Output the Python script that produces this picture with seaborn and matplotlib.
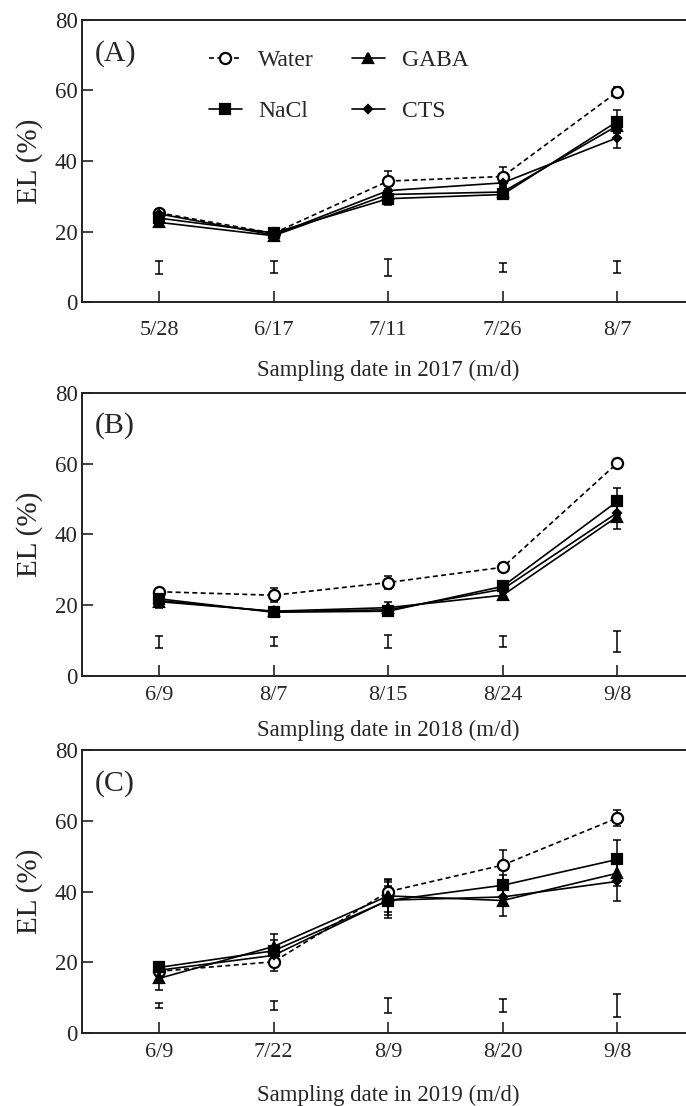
import matplotlib
matplotlib.use("Agg")
import numpy as np
import pandas as pd
import matplotlib.pyplot as plt
import seaborn as sns

# sampling dates per year
dates_2017 = ["5/28", "6/17", "7/11", "7/26", "8/7"]
dates_2018 = ["6/9", "8/7", "8/15", "8/24", "9/8"]
dates_2019 = ["6/9", "7/22", "8/9", "8/20", "9/8"]

# (A) 2017
water_a = [25.3, 19.5, 34.3, 35.6, 59.6]
water_a_err = [1.0, 0.8, 2.8, 2.8, 1.5]
nacl_a = [23.8, 19.6, 29.3, 30.5, 51.2]
nacl_a_err = [1.5, 1.2, 1.8, 1.0, 3.3]
gaba_a = [22.6, 18.8, 30.5, 31.2, 50.0]
gaba_a_err = [1.2, 1.0, 1.5, 1.0, 2.0]
cts_a = [25.0, 19.0, 31.6, 33.8, 46.6]
cts_a_err = [1.0, 0.8, 1.5, 1.2, 2.8]
lsd_a = [9.8, 9.8, 9.8, 9.7, 9.8]
lsd_a_half = [1.9, 1.7, 2.3, 1.3, 1.7]

# (B) 2018
water_b = [23.8, 22.8, 26.4, 30.7, 60.1]
water_b_err = [1.0, 2.0, 1.8, 0.8, 1.2]
nacl_b = [21.8, 18.0, 18.3, 25.3, 49.3]
nacl_b_err = [1.2, 1.2, 1.0, 1.0, 3.9]
gaba_b = [21.0, 18.3, 19.3, 22.8, 45.0]
gaba_b_err = [1.8, 0.8, 1.5, 1.0, 3.6]
cts_b = [21.3, 18.2, 18.7, 24.5, 46.1]
cts_b_err = [1.0, 0.8, 1.0, 1.0, 2.0]
lsd_b = [9.7, 9.8, 9.7, 9.8, 9.85]
lsd_b_half = [1.7, 1.3, 1.9, 1.6, 2.95]

# (C) 2019
water_c = [17.5, 20.2, 40.0, 47.5, 60.8]
water_c_err = [1.0, 2.5, 3.5, 4.3, 2.2]
nacl_c = [18.6, 23.3, 37.5, 41.8, 49.1]
nacl_c_err = [1.2, 3.0, 4.0, 3.0, 5.5]
gaba_c = [15.5, 24.5, 38.8, 37.5, 45.2]
gaba_c_err = [3.3, 3.5, 4.5, 4.5, 3.5]
cts_c = [17.8, 22.0, 37.6, 38.5, 42.9]
cts_c_err = [1.5, 2.0, 5.0, 2.5, 5.4]
lsd_c = [7.8, 7.9, 7.9, 7.9, 7.9]
lsd_c_half = [0.65, 1.25, 2.1, 1.9, 3.2]

treatments = ["Water", "NaCl", "GABA", "CTS"]
markers = {"Water": "o", "NaCl": "s", "GABA": "^", "CTS": "D"}
msizes = {"Water": 8, "NaCl": 7, "GABA": 6.5, "CTS": 4.5}

sns.set_style("ticks")
plt.rcParams['font.family'] = ['Liberation Serif', 'DejaVu Serif']
plt.rcParams['axes.linewidth'] = 1.4
plt.rcParams['axes.edgecolor'] = '#222222'

fig = plt.figure(figsize=(6.86, 11.06), dpi=100)

panels = [
    ("(A)", dates_2017, "Sampling date in 2017 (m/d)",
     [water_a, nacl_a, gaba_a, cts_a], [water_a_err, nacl_a_err, gaba_a_err, cts_a_err],
     lsd_a, lsd_a_half, 20, 302, 25, 68),
    ("(B)", dates_2018, "Sampling date in 2018 (m/d)",
     [water_b, nacl_b, gaba_b, cts_b], [water_b_err, nacl_b_err, gaba_b_err, cts_b_err],
     lsd_b, lsd_b_half, 392.7, 676, 18, 54),
    ("(C)", dates_2019, "Sampling date in 2019 (m/d)",
     [water_c, nacl_c, gaba_c, cts_c], [water_c_err, nacl_c_err, gaba_c_err, cts_c_err],
     lsd_c, lsd_c_half, 750, 1033.3, 18, 62),
]

W, H = 686.0, 1106.0
left_px = 82.0
for i, (tag, dates, xlabel, vals, errs, lsd, lsd_half, top_px, bot_px, tick_off, lab_off) in enumerate(panels):
    ax = fig.add_axes([left_px / W, 1 - bot_px / H, 1 - left_px / W, (bot_px - top_px) / H])
    xs = np.arange(len(dates))
    for name, v, e in zip(treatments, vals, errs):
        df = pd.DataFrame({"date": xs, "EL": v})
        ls = (0, (3, 2)) if name == "Water" else "-"
        mfc = "white" if name == "Water" else "black"
        sns.lineplot(data=df, x="date", y="EL", ax=ax, color="black", lw=1.2,
                     linestyle=ls, marker=markers[name], markersize=msizes[name],
                     markerfacecolor=mfc, markeredgecolor="black", markeredgewidth=1.6,
                     label=name, zorder=3)
        ax.errorbar(xs, v, yerr=e, fmt="none", ecolor="black", elinewidth=1.1,
                    capsize=3, capthick=1.1, zorder=2)
    # LSD bars
    ax.errorbar(xs, lsd, yerr=lsd_half, fmt="none", ecolor="black", elinewidth=1.1,
                capsize=3, capthick=1.1)

    ax.set_xlim(-0.672, 4.60)
    ax.set_ylim(0, 80)
    ax.set_xticks(xs)
    ax.set_xticklabels(dates)
    ax.set_yticks([0, 20, 40, 60, 80])
    ax.spines["right"].set_visible(False)
    ax.tick_params(axis="both", direction="in", length=8, width=1.2, color="#222222")
    ax.tick_params(axis="x", labelsize=16, pad=tick_off - 11)
    ax.tick_params(axis="y", labelsize=16.5, pad=3)

    ax.set_ylabel("EL (%)", fontsize=21)
    ax.yaxis.set_label_coords(-(left_px - 43) / (W - left_px), 0.5)
    ax.set_xlabel(xlabel, fontsize=16.5, va="center")
    ax.xaxis.set_label_coords((388 - left_px) / (W - left_px), -lab_off / (bot_px - top_px))

    ax.text(-0.56, 70.6, tag, fontsize=21.5, ha="left", va="center")

    if i == 0:
        ax.legend(ncol=2, frameon=False, fontsize=17, loc="upper left",
                  bbox_to_anchor=(0.21, 0.895), borderpad=0, handlelength=1.4,
                  handletextpad=0.7, columnspacing=1.6, labelspacing=1.25,
                  borderaxespad=0)
    else:
        ax.get_legend().remove()

fig.savefig("out.png", dpi=100)
